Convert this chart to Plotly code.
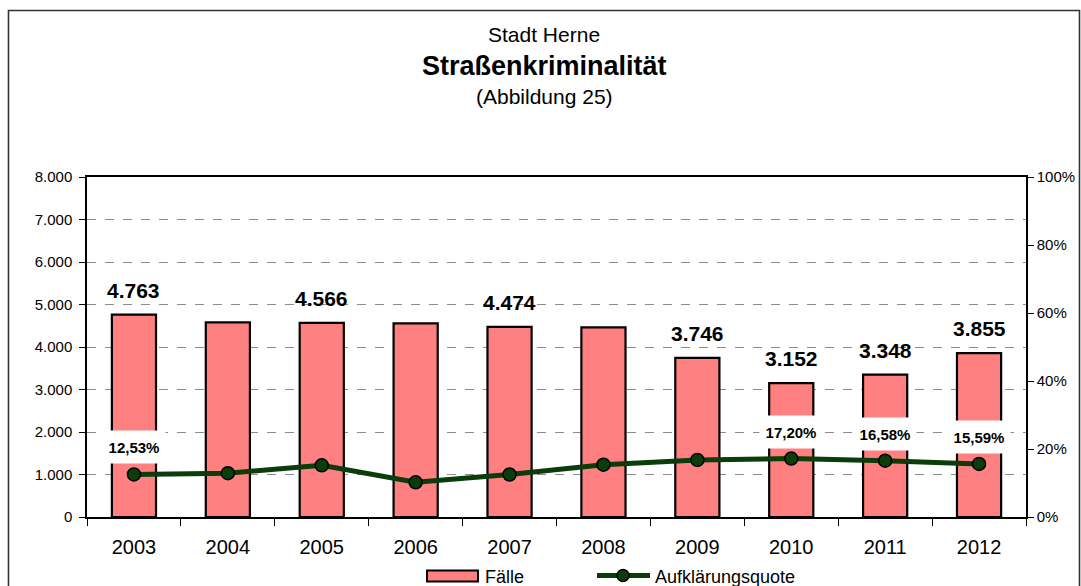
import plotly.graph_objects as go

years = ["2003", "2004", "2005", "2006", "2007", "2008", "2009", "2010", "2011", "2012"]
faelle = [4763, 4580, 4566, 4555, 4474, 4460, 3746, 3152, 3348, 3855]
quote = [0.1253, 0.129, 0.152, 0.102, 0.125, 0.154, 0.168, 0.1720, 0.1658, 0.1559]
bar_label_years = ["2003", "2005", "2007", "2009", "2010", "2011", "2012"]
quote_label_years = ["2003", "2010", "2011", "2012"]
yticks_left = [0, 1000, 2000, 3000, 4000, 5000, 6000, 7000, 8000]
yticks_right = [0, 0.2, 0.4, 0.6, 0.8, 1.0]

FONT = "Liberation Sans, Arial, sans-serif"
W, H = 1081, 586
L, R, T, B = 87, 1026, 177, 517


def px(x):
    return (x - L) / (R - L)


def py(y):
    return (B - y) / (B - T)


fig = go.Figure()
fig.add_trace(go.Bar(
    x=years, y=faelle, name="Fälle", width=0.47,
    marker=dict(color="#FF8080", line=dict(color="#000000", width=2.2)),
    yaxis="y", showlegend=False,
))
fig.add_trace(go.Scatter(
    x=years, y=quote, name="Aufklärungsquote", mode="lines+markers",
    line=dict(color="#0A3D0A", width=5),
    marker=dict(size=13, color="#0A3D0A", line=dict(color="#000000", width=1.5)),
    yaxis="y2", showlegend=False,
))

annotations = []
for i, (yr, v) in enumerate(zip(years, faelle)):
    if yr in bar_label_years:
        annotations.append(dict(
            x=i, y=v, xref="x", yref="y", yanchor="bottom", yshift=11,
            text="<b>" + f"{v:,}".replace(",", ".") + "</b>", showarrow=False,
            font=dict(family=FONT, size=21, color="#000000"),
        ))
for i, (yr, v) in enumerate(zip(years, quote)):
    if yr in quote_label_years:
        annotations.append(dict(
            x=i, y=v, xref="x", yref="y2", yanchor="middle", yshift=27,
            text="<b>" + f"{v*100:.2f}".replace(".", ",") + "%</b>", showarrow=False,
            font=dict(family=FONT, size=15, color="#000000"),
            bgcolor="#FFFFFF", width=60, height=30,
        ))

# titles
cx = px(544)
annotations += [
    dict(x=cx, y=py(35), xref="paper", yref="paper", text="Stadt Herne", showarrow=False,
         font=dict(family=FONT, size=21, color="#000000"), xanchor="center", yanchor="middle"),
    dict(x=cx, y=py(66), xref="paper", yref="paper", text="<b>Straßenkriminalität</b>", showarrow=False,
         font=dict(family=FONT, size=27, color="#000000"), xanchor="center", yanchor="middle"),
    dict(x=cx, y=py(97), xref="paper", yref="paper", text="(Abbildung 25)", showarrow=False,
         font=dict(family=FONT, size=21, color="#000000"), xanchor="center", yanchor="middle"),
    dict(x=px(483), y=py(577), xref="paper", yref="paper", text="Fälle", showarrow=False,
         font=dict(family=FONT, size=18, color="#000000"), xanchor="left", yanchor="middle"),
    dict(x=px(653), y=py(577), xref="paper", yref="paper", text="Aufklärungsquote", showarrow=False,
         font=dict(family=FONT, size=18, color="#000000"), xanchor="left", yanchor="middle"),
]

shapes = [
    # outer chart border
    dict(type="rect", xref="paper", yref="paper", x0=px(8.5), x1=px(1079.5), y0=py(640), y1=py(10.5),
         line=dict(color="#333333", width=1.6), fillcolor="rgba(0,0,0,0)", layer="below"),
    # legend symbols
    dict(type="rect", xref="paper", yref="paper", x0=px(427), x1=px(478), y0=py(581.5), y1=py(570.5),
         line=dict(color="#000000", width=2), fillcolor="#FF8080"),
    dict(type="line", xref="paper", yref="paper", x0=px(597), x1=px(650), y0=py(575.5), y1=py(575.5),
         line=dict(color="#0A3D0A", width=5)),
    dict(type="circle", xref="paper", yref="paper", x0=px(617), x1=px(629), y0=py(581.5), y1=py(569.5),
         line=dict(color="#000000", width=1.5), fillcolor="#0A3D0A"),
]

fig.update_layout(
    width=W, height=H,
    margin=dict(l=L, r=W - R, t=T, b=H - B, pad=0),
    paper_bgcolor="#FFFFFF", plot_bgcolor="#FFFFFF",
    separators=",.",
    font=dict(family=FONT, color="#000000"),
    annotations=annotations, shapes=shapes,
    xaxis=dict(
        type="category", range=[-0.5, 9.5], autorange=False, tickson="boundaries",
        ticks="outside", ticklen=7, tickwidth=1.2, tickangle=0, automargin=False,
        tickcolor="#000000", showline=True, linecolor="#000000", linewidth=1.5, mirror=True,
        showgrid=False, tickfont=dict(family=FONT, size=20, color="#000000"),
        ticklabelstandoff=11,
    ),
    yaxis=dict(
        range=[0, 8000], tickvals=yticks_left, tickformat=",.0f", ticks="outside", ticklen=6,
        tickcolor="#000000", showline=True, linecolor="#000000", linewidth=1.5,
        showgrid=True, gridcolor="#8C8C8C", griddash="dash", gridwidth=1, automargin=False,
        zeroline=False, tickfont=dict(family=FONT, size=15, color="#000000"),
        ticklabelstandoff=4,
    ),
    yaxis2=dict(
        range=[0, 1], tickvals=yticks_right, tickformat=".0%", overlaying="y", side="right",
        ticks="outside", ticklen=6, tickcolor="#000000", showline=True, linecolor="#000000",
        linewidth=1.5, showgrid=False, zeroline=False, automargin=False,
        tickfont=dict(family=FONT, size=15, color="#000000"),
    ),
)

fig.write_html("out.html", config={"displayModeBar": False},
               post_script="document.body.style.margin='0px';document.body.style.overflow='hidden';")
